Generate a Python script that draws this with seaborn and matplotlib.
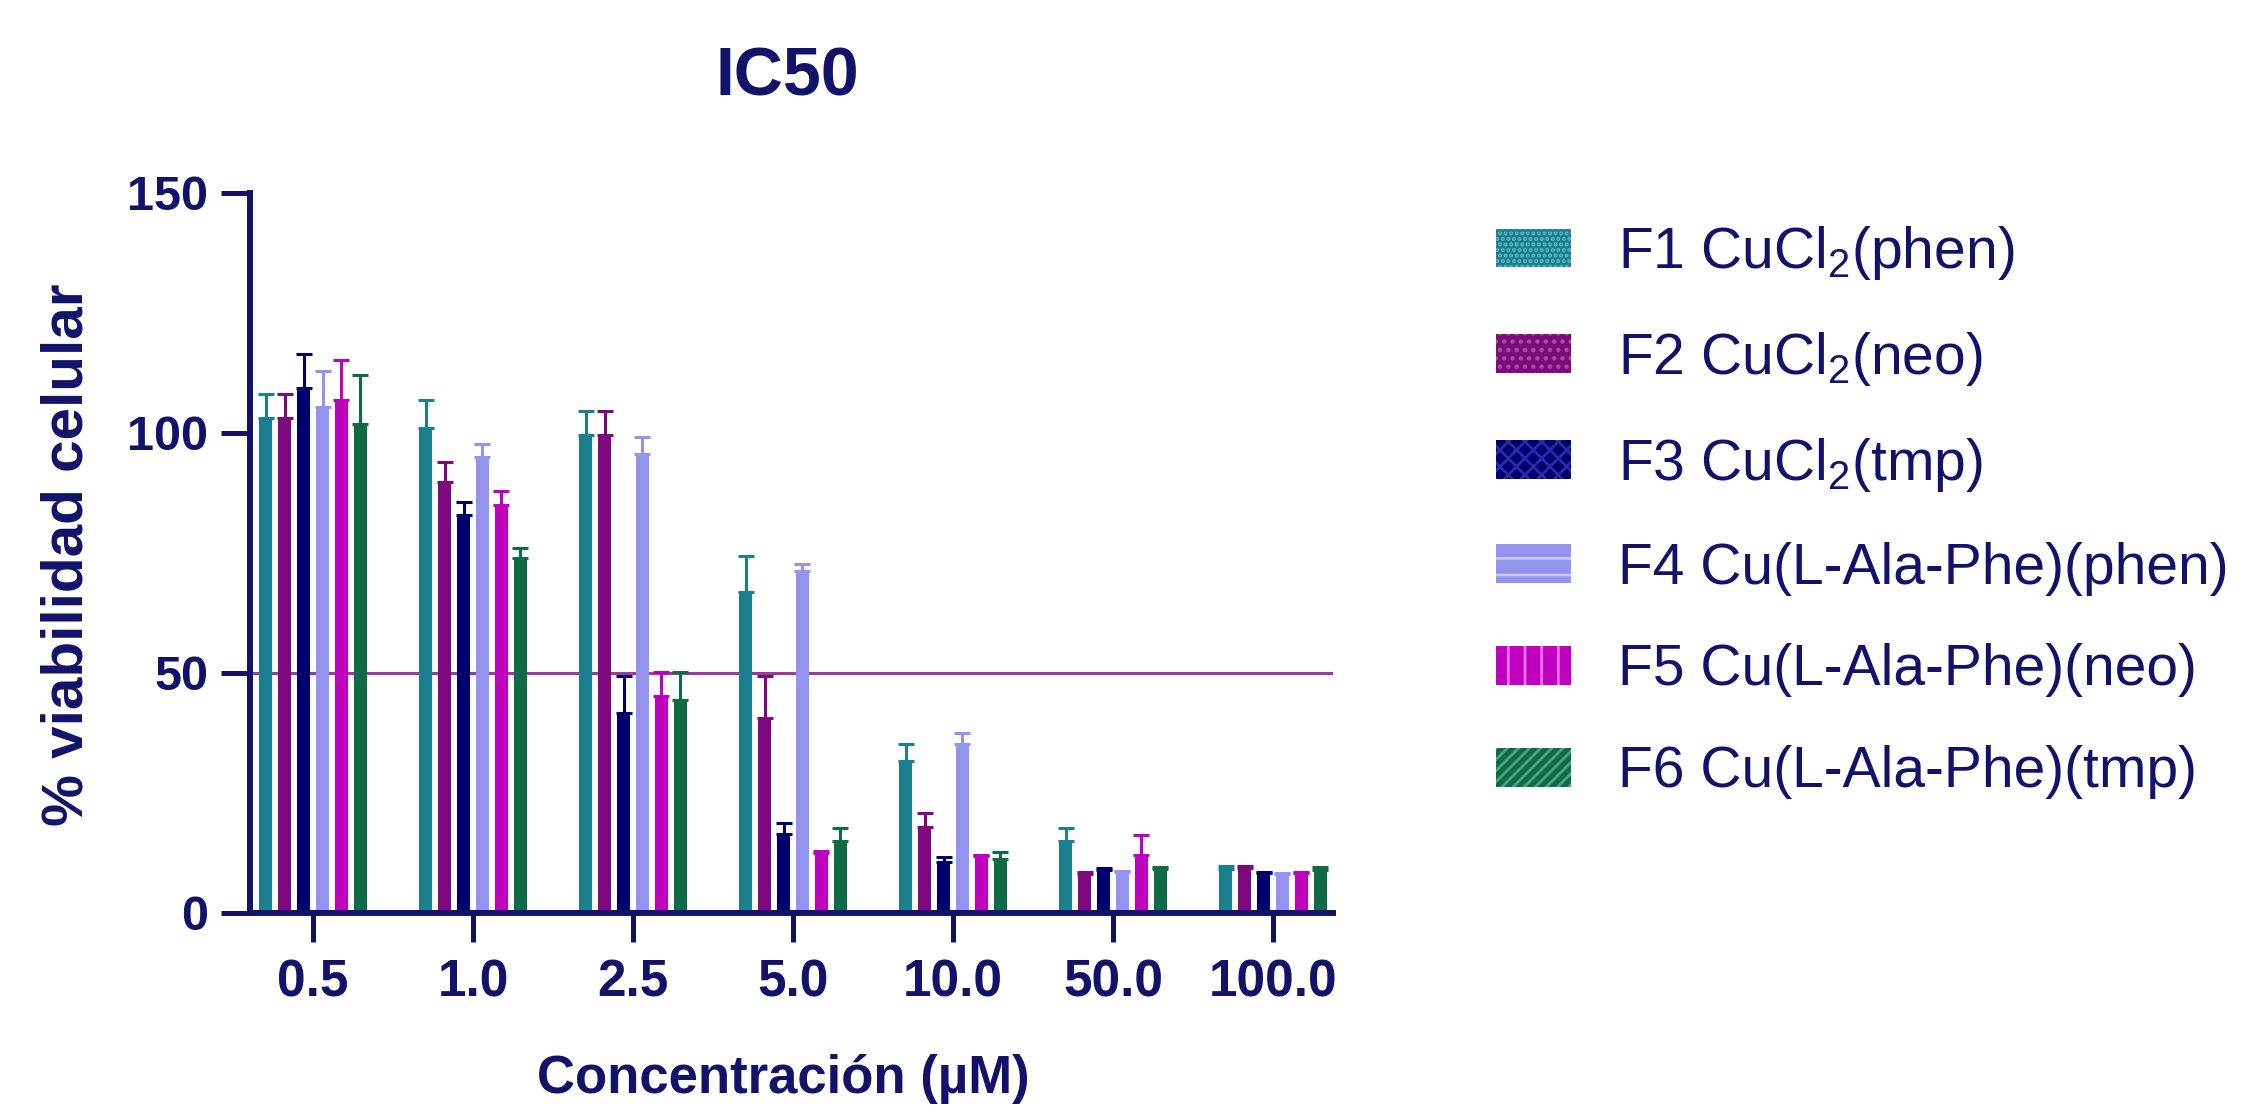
import matplotlib
matplotlib.use("Agg")
import matplotlib.pyplot as plt
from matplotlib.patches import Patch
import seaborn as sns
import pandas as pd
import numpy as np

# ---- data ----
concentrations = ["0.5", "1.0", "2.5", "5.0", "10.0", "50.0", "100.0"]
series_names = [
    "F1 CuCl$_2$(phen)",
    "F2 CuCl$_2$(neo)",
    "F3 CuCl$_2$(tmp)",
    "F4 Cu(L-Ala-Phe)(phen)",
    "F5 Cu(L-Ala-Phe)(neo)",
    "F6 Cu(L-Ala-Phe)(tmp)",
]
f1_mean = [103.2, 101.0, 99.6, 66.9, 31.6, 15.0, 9.2]
f1_err = [5.0, 5.9, 5.0, 7.4, 3.7, 2.7, 0.5]
f2_mean = [103.2, 89.8, 99.6, 40.6, 18.0, 8.1, 9.4]
f2_err = [5.0, 4.2, 5.0, 8.8, 2.8, 0.4, 0.4]
f3_mean = [109.3, 82.9, 41.6, 16.5, 10.6, 9.0, 8.3]
f3_err = [7.2, 2.7, 7.8, 2.2, 1.1, 0.3, 0.3]
f4_mean = [105.4, 95.0, 95.7, 71.3, 35.3, 8.5, 8.1]
f4_err = [7.6, 2.8, 3.5, 1.4, 2.1, 0.3, 0.3]
f5_mean = [106.9, 85.1, 45.3, 12.4, 11.8, 12.0, 8.3]
f5_err = [8.3, 2.8, 5.0, 0.5, 0.2, 4.2, 0.3]
f6_mean = [101.8, 73.9, 44.4, 15.0, 11.3, 9.2, 9.0]
f6_err = [10.2, 2.1, 5.9, 2.7, 1.4, 0.3, 0.5]
threshold = 50
y_ticks = [0, 50, 100, 150]

means = [f1_mean, f2_mean, f3_mean, f4_mean, f5_mean, f6_mean]
errs = [f1_err, f2_err, f3_err, f4_err, f5_err, f6_err]

colors = ["#1a8090", "#7c0a7c", "#00006e", "#9494ee", "#bf00bf", "#106a45"]
hatch_colors = ["#5fb3c0", "#a050a0", "#2a2aa8", "#c8c8ff", "#ff70ff", "#4aa37a"]
hatches = ["...", "..", "xx", "-", "|", "///"]
navy = "#12126a"

rows = []
for name, m in zip(series_names, means):
    for c, v in zip(concentrations, m):
        rows.append({"conc": c, "serie": name, "val": v})
df = pd.DataFrame(rows)

sns.set_theme(style="white")
plt.rcParams["font.family"] = ["Liberation Sans", "DejaVu Sans"]
plt.rcParams["mathtext.fontset"] = "custom"
plt.rcParams["mathtext.rm"] = "Liberation Sans"
plt.rcParams["mathtext.it"] = "Liberation Sans:italic"
plt.rcParams["mathtext.bf"] = "Liberation Sans:bold"
plt.rcParams["hatch.linewidth"] = 2.0

fig = plt.figure(figsize=(22.66, 11.14), dpi=100)
ax = fig.add_axes([250 / 2266, 1 - 913 / 1114, 1083 / 2266, 720 / 1114])

sns.barplot(data=df, x="conc", y="val", hue="serie", order=concentrations,
            hue_order=series_names, palette=colors, width=0.71, gap=0.34,
            errorbar=None, legend=False, saturation=1, ax=ax, zorder=2,
            linewidth=0)

# error bars (upper only) at the bar positions
for cont, err, col in zip(ax.containers, errs, colors):
    xs = [p.get_x() + p.get_width() / 2 for p in cont.patches]
    hs = [p.get_height() for p in cont.patches]
    ax.errorbar(xs, hs, yerr=[np.zeros(len(err)), err], fmt="none",
                ecolor=col, elinewidth=2.2, capsize=6, capthick=2.2, zorder=3)

ax.axhline(threshold, color="#9a3c9a", lw=2.2, zorder=1)

ax.set_ylim(0, 150)
ax.set_xlim(-0.394, 6.375)
ax.set_yticks(y_ticks)
ax.set_xlabel("")
ax.set_ylabel("")

for s in ["top", "right"]:
    ax.spines[s].set_visible(False)
for s in ["left", "bottom"]:
    ax.spines[s].set_color(navy)
    ax.spines[s].set_linewidth(4.3)
    ax.spines[s].set_capstyle("projecting")

ax.tick_params(axis="both", colors=navy, length=21, width=3.6,
               direction="out", bottom=True, left=True)
ax.tick_params(axis="x", pad=12, labelsize=37)
ax.tick_params(axis="y", pad=9, labelsize=35)
for lab in ax.get_xticklabels() + ax.get_yticklabels():
    lab.set_fontweight("bold")
    lab.set_color(navy)

fig.text(787 / 2266, 1 - 78 / 1114, "IC50", ha="center", va="center",
         fontsize=49, fontweight="bold", color=navy)
fig.text(783 / 2266, 1 - 1093 / 1114, "Concentración (µM)", ha="center",
         va="baseline", fontsize=38, fontweight="bold", color=navy)
fig.text(68 / 2266, 1 - 555 / 1114, "% viabilidad celular", ha="center",
         va="center", rotation=90, fontsize=42, fontweight="bold", color=navy)

handles = [Patch(facecolor=c, edgecolor=hc, hatch=h, linewidth=0)
           for c, hc, h in zip(colors, hatch_colors, hatches)]
leg = fig.legend(handles, series_names, loc="upper left",
                 bbox_to_anchor=(1496 / 2266, 1 - 224 / 1114),
                 frameon=False, fontsize=41, handlelength=1.32,
                 handleheight=0.67, handletextpad=0.83, labelspacing=0.84,
                 borderpad=0, borderaxespad=0)
for t in leg.get_texts():
    t.set_color(navy)

fig.savefig("out.png", dpi=100, facecolor="white")
